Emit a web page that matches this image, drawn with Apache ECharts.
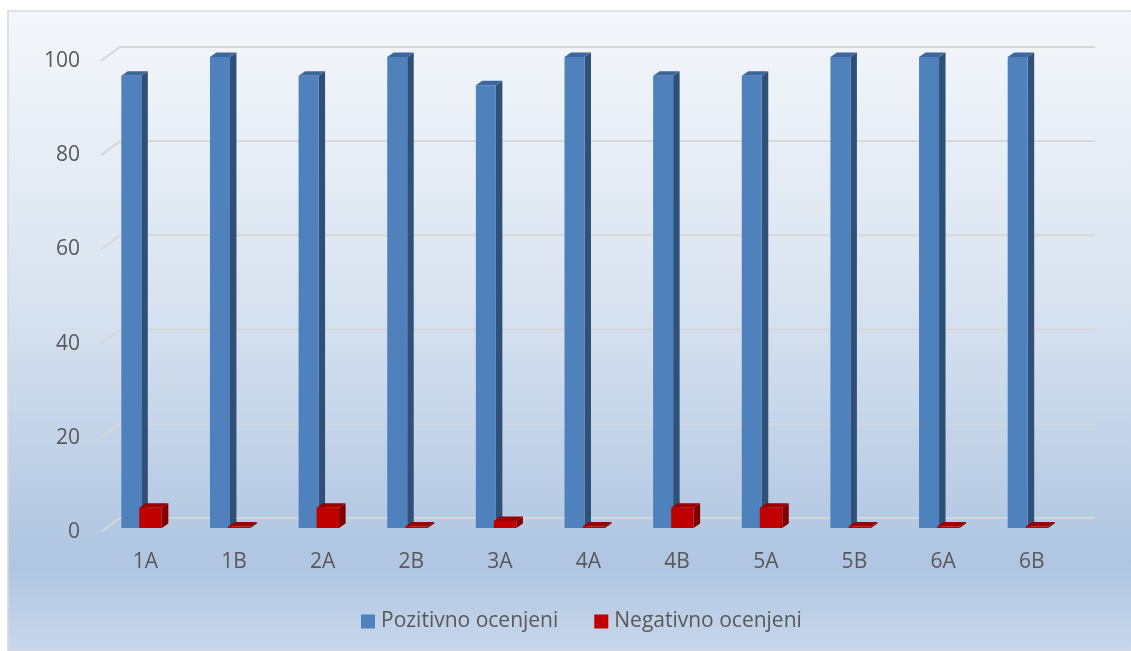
<!DOCTYPE html>
<html>
<head>
<meta charset="utf-8">
<script src="https://cdn.jsdelivr.net/npm/echarts@6/dist/echarts.min.js"></script>
<style>html,body{margin:0;padding:0;background:#fff}#c{width:1131px;height:651px}</style>
</head>
<body>
<div id="c"></div>
<script>
const categories = ['1A','1B','2A','2B','3A','4A','4B','5A','5B','6A','6B'];
const positive = [96,100,96,100,94,100,96,96,100,100,100];
const negative = [4.3,0,4.3,0,1.5,0,4.3,4.3,0,0,0];
const yTicks = [0,20,40,60,80,100];
const seriesNames = ['Pozitivno ocenjeni','Negativno ocenjeni'];

const FONT = 'Open Sans';
const DX = 6.5, DZ = 4.5, DY = -4;      // bar depth and placement
const GX = 19, GY = 14;                 // back-wall offset

function boxRenderer(x0off, x1off, front, side, top) {
  return function (params, api) {
    const idx = api.value(0), v = api.value(1);
    const pt = api.coord([idx, v]);
    const pb = api.coord([idx, 0]);
    const c = pt[0];
    const xl = c + x0off, xr = c + x1off;
    const yb = pb[1] + DY;
    let yt = pt[1] + DY;
    if (yb - yt < 1.5) yt = yb - 1.5;
    return {
      type: 'group',
      children: [
        {type:'polygon', shape:{points:[[xr,yt],[xr+DX,yt-DZ],[xr+DX,yb-DZ],[xr,yb]]}, style:{fill:side}},
        {type:'polygon', shape:{points:[[xl,yt],[xl+DX,yt-DZ],[xr+DX,yt-DZ],[xr,yt]]}, style:{fill:top}},
        {type:'rect', shape:{x:xl, y:yt, width:xr-xl, height:yb-yt}, style:{fill:front}}
      ]
    };
  };
}

function gridRenderer(params, api) {
  const v = api.value(1);
  const band = api.size([1,0])[0];
  const p0 = api.coord([0, v]);
  const p1 = api.coord([categories.length-1, v]);
  const xl = p0[0] - band/2, xr = p1[0] + band/2, y = p0[1];
  return {
    type:'polyline',
    shape:{points:[[xl,y],[xl+GX,y-GY],[xr+GX,y-GY]]},
    style:{stroke:'#D6D6D6', lineWidth:1.8, fill:null}
  };
}

const chart = echarts.init(document.getElementById('c'), null, {renderer:'canvas'});
chart.setOption({
  animation:false,
  backgroundColor:'#ffffff',
  graphic:[{
    type:'rect', z:-10, silent:true,
    shape:{x:8, y:11, width:1140, height:640},
    style:{
      fill:new echarts.graphic.LinearGradient(0,0,0,1,[
        {offset:0,color:'#F4F7FB'},
        {offset:0.45,color:'#D9E3F0'},
        {offset:0.86,color:'#AFC5E1'},
        {offset:1,color:'#C8D7EB'}
      ]),
      stroke:'#D9D9D9', lineWidth:1.5
    }
  }],
  grid:{left:101, right:55, top:61, bottom:119},
  legend:{
    left:361, top:611, padding:0, itemWidth:14, itemHeight:14, itemGap:36,
    textStyle:{color:'#595959', fontSize:21, fontFamily:FONT, padding:[0,0,0,1]},
    data:[
      {name:seriesNames[0], icon:'rect', itemStyle:{color:'#4F81BD'}},
      {name:seriesNames[1], icon:'rect', itemStyle:{color:'#C00000'}}
    ]
  },
  xAxis:{
    type:'category', data:categories,
    axisLine:{show:false}, axisTick:{show:false},
    axisLabel:{color:'#595959', fontSize:21, fontFamily:FONT, margin:20}
  },
  yAxis:{
    type:'value', min:0, max:100, interval:20,
    axisLine:{show:false}, axisTick:{show:false}, splitLine:{show:false},
    axisLabel:{color:'#595959', fontSize:21, fontFamily:FONT, margin:21}
  },
  series:[
    {type:'custom', name:'grid', silent:true, z:1, renderItem:gridRenderer,
     data:yTicks.map(t=>[0,t]), encode:{x:0,y:1}},
    {type:'custom', name:seriesNames[0], z:2, itemStyle:{color:'#4F81BD'},
     renderItem:boxRenderer(-24,-4,'#4F81BD','#2F5079','#3C669C'),
     data:positive.map((v,i)=>[i,v]), encode:{x:0,y:1}},
    {type:'custom', name:seriesNames[1], z:3, itemStyle:{color:'#C00000'},
     renderItem:boxRenderer(-6,16.5,'#C00000','#800000','#9A0000'),
     data:negative.map((v,i)=>[i,v]), encode:{x:0,y:1}}
  ]
});
</script>
</body>
</html>
